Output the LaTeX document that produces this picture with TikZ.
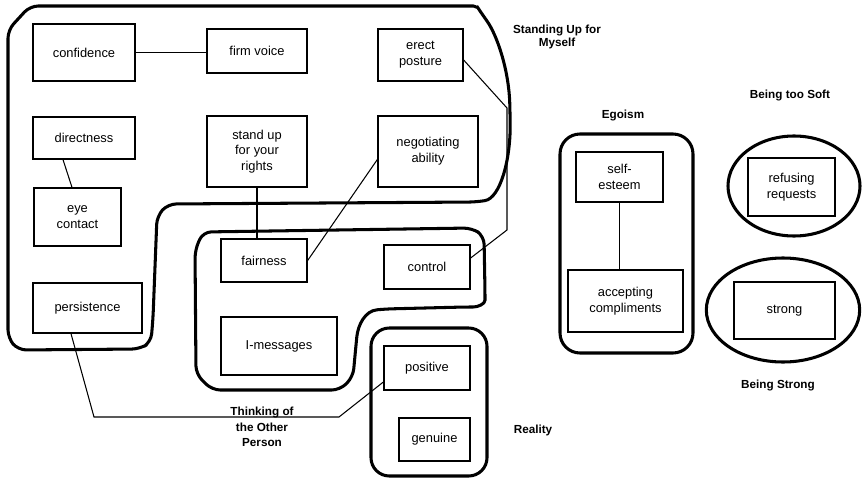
\documentclass[tikz,border=0pt]{standalone}
\usepackage{fontspec}
\setmainfont{Liberation Sans}
\usetikzlibrary{calc}

\begin{document}
\begin{tikzpicture}[x=0.03cm,y=-0.03cm,
        box/.style={draw, line width=1.1pt, align=center, inner sep=1pt, font=\fontsize{11}{13.5}\selectfont},
        group/.style={line width=2.6pt, rounded corners=7pt},
        link/.style={line width=0.9pt},
        title/.style={align=center, font=\fontsize{10}{13}\selectfont\bfseries}]
            \useasboundingbox (0,0) rectangle (863,479);

            \node[box, minimum width=3.06cm, minimum height=1.71cm] (confidence) at (84,52.5) {confidence};
            \node[box, minimum width=3cm, minimum height=1.32cm] (firmvoice) at (257,51) {firm voice};
            \node[box, minimum width=2.55cm, minimum height=1.56cm] (erect) at (420.5,55) {erect\\posture};
            \node[box, minimum width=3.06cm, minimum height=1.26cm] (directness) at (84,138) {directness};
            \node[box, minimum width=3cm, minimum height=2.13cm] (standup) at (257,151.5) {stand up\\for your\\rights};
            \node[box, minimum width=3cm, minimum height=2.13cm] (negotiating) at (428,151.5) {negotiating\\ability};
            \node[box, minimum width=2.61cm, minimum height=1.74cm] (eyecontact) at (77.5,217) {eye\\contact};
            \node[box, minimum width=2.58cm, minimum height=1.29cm] (fairness) at (264,260.5) {fairness};
            \node[box, minimum width=2.58cm, minimum height=1.32cm] (control) at (427,267) {control};
            \node[box, minimum width=3.27cm, minimum height=1.5cm] (persistence) at (87.5,308) {persistence};
            \node[box, minimum width=3.48cm, minimum height=1.74cm] (imessages) at (279,346) {I-messages};
            \node[box, minimum width=2.58cm, minimum height=1.32cm] (positive) at (427,368) {positive};
            \node[box, minimum width=2.13cm, minimum height=1.29cm] (genuine) at (434.5,439.5) {genuine};
            \node[box, minimum width=2.61cm, minimum height=1.5cm] (selfesteem) at (619.5,177) {self-\\esteem};
            \node[box, minimum width=3.45cm, minimum height=1.86cm] (accepting) at (625.5,301) {accepting\\compliments};
            \node[box, minimum width=2.61cm, minimum height=1.74cm] (refusing) at (791.5,187) {refusing\\requests};
            \node[box, minimum width=3.03cm, minimum height=1.71cm] (strong) at (784.5,310.5) {strong};

            \draw[group] (8,30) -- (8,338) -- (18,350) -- (140,349) -- (151,342) -- (153,318) -- (157,216) -- (168,204) -- (477,202)
                .. controls (500,198) and (511,160) .. (510,113)
                .. controls (509,70) and (497,35) .. (482,14)
                .. controls (478,8) and (474,6) .. (465,6)
                -- (30,6) -- cycle;
            \draw[group] (203,232) -- (472,228) -- (484,236) -- (485,292)
                .. controls (485,304) and (478,307) .. (465,307) -- (385,309)
                .. controls (365,311) and (358,325) .. (356,345)
                -- (353,377) -- (340,390) -- (212,390) -- (196,374) -- (195,250) -- cycle;
            \draw[group, rounded corners=0.55cm] (371,328) rectangle (487,476);
            \draw[group, rounded corners=0.6cm] (560,134) rectangle (693,353);
            \draw[group] (794,186) ellipse [x radius=1.98cm, y radius=1.5cm];
            \draw[group] (783,310) ellipse [x radius=2.3cm, y radius=1.56cm];

            \node[title, font=\fontsize{10}{11}\selectfont\bfseries] (standing) at (557,37) {Standing Up for\\Myself};
            \node[title] (thinking) at (262,427) {Thinking of\\the Other\\Person};
            \node[title] (reality) at (533,430) {Reality};
            \node[title] (egoism) at (623,115) {Egoism};
            \node[title] (toosoft) at (790,95) {Being too Soft};
            \node[title] (beingstrong) at (778,385) {Being Strong};

            \coordinate (ep1) at (507,108);
            \coordinate (ep2) at (507,230);
            \coordinate (pp1) at (94,417);
            \coordinate (pp2) at (339,417);

            \draw[link] (confidence.east) -- (confidence.east -| firmvoice.west);
            \draw[link] ($(directness.south)+(-21,0)$) -- ($(eyecontact.north)+(-5.5,0)$);
            \draw[link] (standup.south) -- (standup.south |- fairness.north);
            \draw[link] (fairness.east) -- ($(negotiating.west)+(0,8)$);
            \draw[link] ($(erect.east)+(0,5)$) -- (ep1) -- (ep2) -- ($(control.east)+(0,-9)$);
            \draw[link] ($(persistence.south)+(-16.5,0)$) -- (pp1) -- (pp2) -- ($(positive.west)+(0,14)$);
            \draw[link] (selfesteem.south) -- (selfesteem.south |- accepting.north);
        \end{tikzpicture}
\end{document}
